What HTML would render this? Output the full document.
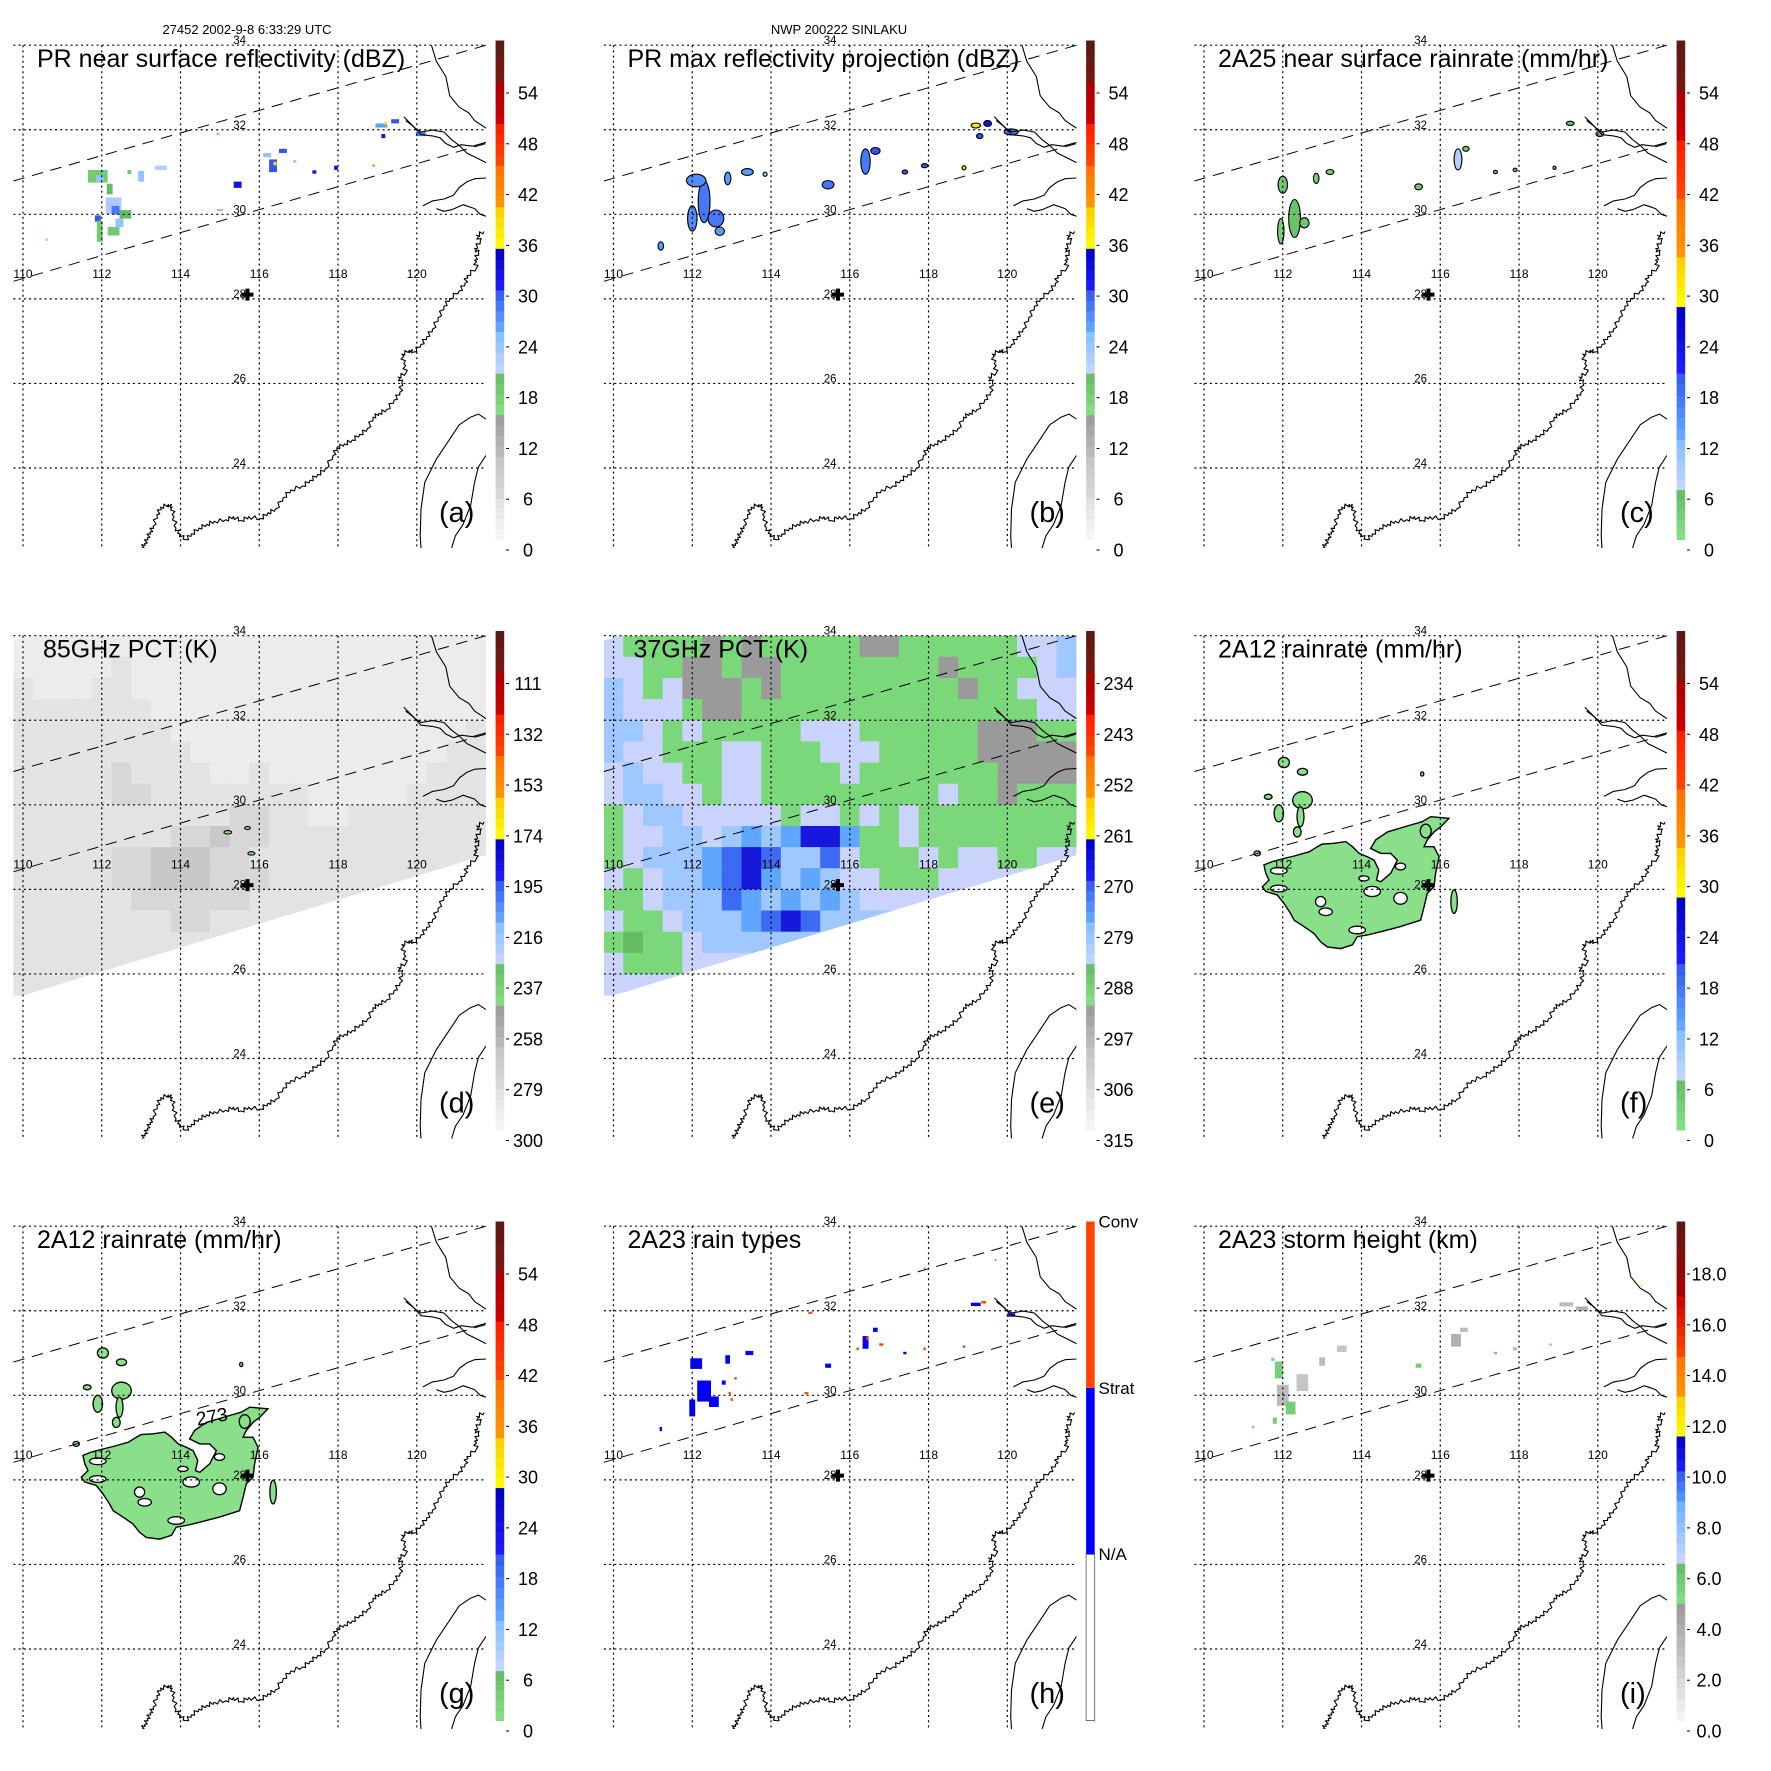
<!DOCTYPE html>
<html><head><meta charset="utf-8"><style>
html,body{margin:0;padding:0;background:#fff}
svg{display:block;font-family:"Liberation Sans",Arial,sans-serif}
</style></head><body>
<svg id="fig" xmlns="http://www.w3.org/2000/svg" width="1771" height="1771" viewBox="0 0 1771 1771">
<rect x="0" y="0" width="1771" height="1771" fill="#fff"/>
<defs><clipPath id="mapclip" clipPathUnits="userSpaceOnUse"><rect x="13.4" y="45.2" width="472.6" height="502.8"/></clipPath>
<clipPath id="swathclip" clipPathUnits="userSpaceOnUse"><polygon points="13.4,50 30,45.2 486,45.2 486,264.5 13.4,407.8"/></clipPath></defs>
<text x="247" y="34" font-size="13" text-anchor="middle">27452 2002-9-8 6:33:29 UTC</text>
<text x="839" y="34" font-size="13" text-anchor="middle">NWP 200222 SINLAKU</text>
</svg>
<script>
const NS='http://www.w3.org/2000/svg';
const svg=document.getElementById('fig');
// ---------- data ----------
const latTicks=[34,32,30,28,26,24];
const lonTicks=[110,112,114,116,118,120];
const centerLon=115.7, centerLat=28.1;
const pixA=[[111.9,30.9,0.5,0.3,18],[111.95,30.85,0.2,0.15,24],[112.2,30.6,0.15,0.25,20],[112.3,30.2,0.4,0.4,22],[112.35,30.1,0.2,0.2,28],[112.6,30.0,0.3,0.2,20],[111.9,29.9,0.15,0.15,30],[111.95,29.6,0.15,0.5,18],[112.3,29.6,0.3,0.2,18],[112.45,29.8,0.2,0.2,24],[113.0,30.9,0.15,0.25,24],[113.5,31.1,0.3,0.1,22],[112.7,31.0,0.1,0.1,18],[116.35,31.15,0.2,0.3,30],[116.4,31.2,0.08,0.08,38],[116.6,31.5,0.2,0.1,30],[116.2,31.4,0.2,0.1,24],[115.45,30.7,0.2,0.15,32],[119.1,32.1,0.3,0.1,26],[119.2,32.15,0.1,0.06,38],[119.45,32.2,0.2,0.1,30],[120.1,31.9,0.25,0.1,28],[119.15,31.85,0.1,0.1,32],[117.4,31.0,0.1,0.08,32],[117.95,31.1,0.1,0.1,32],[118.9,31.15,0.06,0.06,42],[110.6,29.4,0.06,0.06,22],[115.0,30.1,0.15,0.05,24],[114.95,31.9,0.08,0.06,24],[116.9,31.25,0.08,0.06,24]];
const blobB=[[112.3,30.3,0.15,0.5,28],[112.0,29.9,0.12,0.3,27],[112.6,29.9,0.2,0.2,28],[112.1,30.8,0.25,0.15,27],[112.9,30.85,0.08,0.15,26],[113.4,31.0,0.15,0.08,26],[113.85,30.95,0.05,0.05,24],[115.45,30.7,0.15,0.1,28],[116.4,31.25,0.12,0.3,28],[116.65,31.5,0.12,0.08,30],[117.4,31.0,0.07,0.05,30],[117.9,31.15,0.08,0.05,30],[119.2,32.1,0.12,0.06,38],[119.5,32.15,0.1,0.07,32],[120.1,31.95,0.18,0.07,28],[119.3,31.85,0.08,0.06,30],[111.2,29.25,0.07,0.1,26],[118.9,31.1,0.05,0.05,40],[112.7,29.6,0.12,0.1,26]];
const blobC=[[112.0,30.7,0.12,0.2,4],[112.3,29.9,0.15,0.45,5],[112.55,29.8,0.12,0.12,4],[111.95,29.6,0.08,0.3,3],[112.85,30.85,0.07,0.12,3],[113.2,31.0,0.1,0.06,3],[115.45,30.65,0.1,0.07,4],[116.45,31.3,0.1,0.25,8],[116.65,31.55,0.08,0.06,4],[119.3,32.15,0.1,0.05,5],[120.05,31.9,0.1,0.06,4],[117.4,31.0,0.05,0.04,5],[117.9,31.05,0.05,0.04,5],[118.9,31.1,0.04,0.04,4]];
const gridD=["000000000000000000000000","000001000000000000000000","100011000000000000000000","111111100000000000000000","111111110000000000000001","111111111000000000000011","111112111100100000000111","111112211111111000001111","111111111112211001111111","111111112232211111111111","111112233322111111111111","111112233322211111111111","111111222222111111111111","111111112211111111111111","111111111111111111111111","111111111111111111111111","111111111111111111111111"];
const shadeD={"0":"#ececec","1":"#e3e3e3","2":"#d7d7d7","3":"#c8c8c8"};
const gridE=["wggggrgrgggggrrggggggwwl","wwggrrgrrggggggggrggggwl","lwgwrrrgrgggggggggrggwww","lwwwgrrgggggggggggggggww","llwgwgggggwwwggggggrrrgg","lwwgggwwgggwwwgggggrrrrr","wlwwggwwggggwgggggggrrrr","wllwwgwwgggggggggwggrggg","gwllwwwwwgwwgwgwgggggggg","gwwllwlblbDDbggwgggggggg","gwlllbBDBllBwgggwgwwggww","wgwllbBDblblwwgggwwwwwww","ggwlllBblblblwwwwwwwwwww","wggwlllbBDBlllllllllllll","gGggwlllllllllllllllllll","wgggwwwwwwwwwwwwwwwwwwww","wwwwwwwwwwwwwwwwwwwwwwww"];
const colorE={g:"#7ad87a",G:"#64bb64",w:"#c9d3fb",l:"#9ec8ff",b:"#5ea6ff",B:"#3c6af2",D:"#1818dc",r:"#9a9a9a"};
const rainPoly=[[111.52,28.58],[111.74,28.66],[112.03,28.73],[112.29,28.79],[112.67,28.89],[112.88,29.01],[113.0,29.07],[113.3,29.09],[113.6,29.13],[113.77,29.01],[113.94,28.85],[114.15,28.77],[114.32,28.69],[114.44,28.46],[114.38,28.22],[114.49,28.18],[114.74,28.38],[114.91,28.69],[114.74,28.85],[114.49,28.85],[114.23,28.97],[114.36,29.17],[114.66,29.36],[115.16,29.5],[115.54,29.6],[115.76,29.72],[116.22,29.68],[116.01,29.48],[115.84,29.36],[115.67,29.17],[115.59,29.01],[115.84,29.01],[115.97,28.77],[115.88,28.38],[115.84,28.06],[115.67,27.91],[115.59,27.59],[115.5,27.27],[114.99,27.12],[114.49,27.0],[114.15,26.92],[113.89,26.88],[113.77,26.69],[113.47,26.6],[113.13,26.64],[112.96,26.76],[112.79,26.96],[112.54,27.12],[112.29,27.27],[112.2,27.43],[112.03,27.67],[111.86,27.87],[111.57,27.95],[111.48,28.06],[111.65,28.22],[111.57,28.38]];
const rainHoles=[[111.9,28.44,0.21,0.08],[111.9,28.02,0.21,0.08],[112.96,27.71,0.13,0.12],[113.09,27.47,0.17,0.09],[114.27,27.95,0.21,0.12],[114.99,27.79,0.17,0.14],[114.99,28.54,0.13,0.08],[113.89,27.04,0.21,0.09],[114.06,28.26,0.13,0.06]];
const rainRing=[[115.63,29.38,0.14,0.16]];
const rainIslands=[[112.03,31.0,0.14,0.12],[112.5,30.78,0.13,0.08],[111.63,30.19,0.1,0.06],[111.9,29.8,0.12,0.2],[112.5,30.11,0.25,0.2],[112.45,29.72,0.09,0.24],[112.37,29.36,0.1,0.12],[111.35,28.85,0.08,0.06],[116.35,27.71,0.08,0.28],[115.54,30.73,0.04,0.05]];
const pixH=[[112.1,30.75,0.3,0.25,1],[112.3,30.1,0.35,0.5,1],[112.0,29.7,0.15,0.4,1],[112.55,29.85,0.25,0.25,1],[112.8,30.3,0.1,0.1,1],[112.9,30.85,0.12,0.2,1],[113.45,31.0,0.2,0.1,1],[111.2,29.2,0.06,0.1,1],[113.1,30.4,0.06,0.06,2],[115.45,30.7,0.15,0.1,1],[116.4,31.25,0.15,0.3,1],[116.45,31.35,0.06,0.08,2],[116.65,31.55,0.12,0.1,1],[117.4,31.0,0.08,0.06,1],[117.9,31.1,0.06,0.06,2],[118.9,31.15,0.06,0.06,2],[119.2,32.15,0.25,0.08,1],[119.4,32.2,0.12,0.06,2],[120.1,31.9,0.2,0.08,1],[115.0,31.95,0.1,0.05,2],[114.9,30.05,0.1,0.05,2],[116.2,31.1,0.06,0.06,2],[112.95,30.05,0.06,0.06,2],[113.0,29.9,0.06,0.06,2],[117.9,33.0,0.04,0.04,2],[119.7,33.2,0.04,0.04,2],[116.8,31.2,0.1,0.06,2]];
const pixI=[[111.9,30.6,0.2,0.4,5.5],[112.0,30.0,0.3,0.5,3],[112.2,29.7,0.25,0.3,5.5],[111.8,29.4,0.1,0.15,5.5],[112.5,30.3,0.3,0.4,2.5],[113.0,30.8,0.15,0.2,3],[113.5,31.1,0.25,0.15,2.5],[115.45,30.7,0.15,0.1,5.5],[116.4,31.3,0.25,0.3,3.5],[116.6,31.55,0.2,0.1,3],[117.4,31.0,0.08,0.06,5.5],[117.9,31.1,0.1,0.08,3],[119.2,32.15,0.35,0.1,3],[119.6,32.05,0.3,0.1,3.5],[118.8,31.2,0.06,0.05,5.5],[121.1,32.6,0.04,0.04,12],[111.75,30.85,0.08,0.08,8],[111.25,29.25,0.06,0.06,5.5]];
const segStd=[[0,5,'#f8f8f8','#e0e0e0'],[5,10,'#dadada','#c3c3c3'],[10,15,'#bdbdbd','#999999'],[15,20,'#88e088','#66bb66'],[20,25,'#ccd6ff','#80bfff'],[25,30,'#66b0ff','#3355f0'],[30,35,'#1f1fff','#0000c0'],[35,40,'#ffff00','#ffcc00'],[40,45,'#ff9900','#ff7000'],[45,50,'#ff4a00','#ff1a00'],[50,55,'#d00000','#a80000'],[55,60,'#7a1810','#581a14']];
const segRain=[[0,6,'#88e088','#66bb66'],[6,12,'#ccd6ff','#80bfff'],[12,20,'#66b0ff','#3355f0'],[20,28,'#1f1fff','#0000c0'],[28,34,'#ffff00','#ffcc00'],[34,41,'#ff9900','#ff7000'],[41,48,'#ff4a00','#ff1a00'],[48,54,'#d00000','#a80000'],[54,60,'#7a1810','#581a14']];
const segHt=[[0,4.7,'#f8f8f8','#999999'],[4.7,6.3,'#88e088','#66bb66'],[6.3,8.8,'#ccd6ff','#66b0ff'],[8.8,10,'#5599ff','#3355f0'],[10,11.4,'#1f1fff','#0000c0'],[11.4,13,'#ffff00','#ffcc00'],[13,14.6,'#ff9900','#ff7000'],[14.6,17,'#ff4a00','#cc0000'],[17,20,'#aa0000','#5a1a14']];
const ticksStd=[0,6,12,18,24,30,36,42,48,54];
const labStd=['0','6','12','18','24','30','36','42','48','54'];
const labD=['300','279','258','237','216','195','174','153','132','111'];
const labE=['315','306','297','288','279','270','261','252','243','234'];
const ticksHt=[0,2,4,6,8,10,12,14,16,18];
const labHt=['0.0','2.0','4.0','6.0','8.0','10.0','12.0','14.0','16.0','18.0'];
const typeNames=['N/A','Strat','Conv'];
// ---------- helpers ----------
const X=lon=>23+(lon-110)*39.38;
const Y=lat=>45.2+(34-lat)*42.28;
function mk(tag,attrs,parent){const e=document.createElementNS(NS,tag);for(const k in attrs)e.setAttribute(k,attrs[k]);parent.appendChild(e);return e;}
function hex(c){return [1,3,5].map(i=>parseInt(c.substr(i,2),16));}
function mix(a,b,t){const A=hex(a),B=hex(b);return 'rgb('+A.map((v,i)=>Math.round(v+(B[i]-v)*t)).join(',')+')';}
function colorAt(v,segs){for(const s of segs){if(v<=s[1])return mix(s[2],s[3],Math.max(0,(v-s[0])/(s[1]-s[0])));}const s=segs[segs.length-1];return s[3];}
const S=2.613;
const coastMain=[[370,1432],[378,1420],[385,1405],[392,1390],[400,1375],[410,1345],[420,1325],[440,1318],[450,1325],[455,1350],[460,1380],[470,1395],[485,1410],[500,1395],[520,1380],[540,1370],[560,1362],[590,1358],[610,1350],[630,1360],[650,1350],[680,1355],[700,1340],[720,1330],[740,1300],[760,1280],[790,1270],[810,1255],[830,1240],[850,1225],[870,1190],[880,1170],[900,1160],[920,1150],[940,1135],[960,1120],[975,1090],[990,1080],[1010,1070],[1030,1045],[1045,1025],[1050,1000],[1040,985],[1060,975],[1055,950],[1050,925],[1070,915],[1080,920],[1100,900],[1115,880],[1130,860],[1145,830],[1160,800],[1175,780],[1200,760],[1215,740],[1220,720],[1245,700],[1240,680],[1250,660],[1240,650],[1255,630],[1245,615],[1265,605]];
const coastOther=[
[[1125,110],[1140,160],[1165,200],[1175,250],[1200,280],[1225,295],[1240,315],[1270,335]],
[[1055,305],[1070,320],[1085,335],[1100,345],[1130,340],[1160,345],[1180,365],[1200,380],[1220,400],[1240,410],[1270,425]],
[[1060,315],[1080,330],[1100,352],[1130,355],[1150,360],[1165,375],[1185,385],[1205,378],[1235,382],[1270,372]],
[[1105,538],[1130,525],[1160,520],[1185,510],[1200,490],[1220,475],[1240,467],[1270,465]],
[[1140,545],[1160,552],[1180,548],[1210,535],[1240,545],[1255,560],[1270,565]],
[[1100,1432],[1098,1400],[1100,1330],[1110,1260],[1140,1200],[1180,1140],[1200,1110],[1230,1090],[1250,1082],[1270,1095]],
[[1270,1190],[1250,1220],[1240,1260],[1230,1320],[1210,1370],[1190,1400],[1180,1432]]];
function jag(pts){const out=[];const w=[0,2.2,-1.8,1.5];for(let i=0;i<pts.length-1;i++){const [x0,y0]=pts[i],[x1,y1]=pts[i+1];const dx=x1-x0,dy=y1-y0,L=Math.hypot(dx,dy)||1;const nx=-dy/L,ny=dx/L;for(let k=0;k<4;k++){const t=k/4;out.push([(x0+dx*t)/S+nx*w[k],(y0+dy*t)/S+ny*w[k]]);}}const l=pts[pts.length-1];out.push([l[0]/S,l[1]/S]);return out;}
const pstr=a=>a.map(p=>p[0].toFixed(1)+','+p[1].toFixed(1)).join(' ');

const panels=[
{k:'a',c:0,r:0,title:'PR near surface reflectivity (dBZ)',tx:37,seg:segStd,max:60,ticks:ticksStd,labs:labStd},
{k:'b',c:1,r:0,title:'PR max reflectivity projection (dBZ)',tx:37,seg:segStd,max:60,ticks:ticksStd,labs:labStd},
{k:'c',c:2,r:0,title:'2A25 near surface rainrate (mm/hr)',tx:37,seg:segRain,max:60,ticks:ticksStd,labs:labStd},
{k:'d',c:0,r:1,title:'85GHz PCT (K)',tx:43,seg:segStd,max:60,ticks:ticksStd,labs:labD},
{k:'e',c:1,r:1,title:'37GHz PCT (K)',tx:43,seg:segStd,max:60,ticks:ticksStd,labs:labE},
{k:'f',c:2,r:1,title:'2A12 rainrate (mm/hr)',tx:37,seg:segRain,max:60,ticks:ticksStd,labs:labStd},
{k:'g',c:0,r:2,title:'2A12 rainrate (mm/hr)',tx:37,seg:segRain,max:60,ticks:ticksStd,labs:labStd},
{k:'h',c:1,r:2,title:'2A23 rain types',tx:37,seg:null,max:3,ticks:[],labs:[]},
{k:'i',c:2,r:2,title:'2A23 storm height (km)',tx:37,seg:segHt,max:20,ticks:ticksHt,labs:labHt}];

function drawRects(g,arr,colorFn,name){for(const p of arr){const el=mk('rect',{x:X(p[0]-p[2]/2).toFixed(1),y:Y(p[1]+p[3]/2).toFixed(1),width:Math.max(1.5,p[2]*39.38).toFixed(1),height:Math.max(1.5,p[3]*42.28).toFixed(1),fill:colorFn(p[4])},g);

}}
function drawBlobs(g,arr,colorFn,name){for(const p of arr){const el=mk('ellipse',{cx:X(p[0]).toFixed(1),cy:Y(p[1]).toFixed(1),rx:Math.max(1.5,p[2]*39.38).toFixed(1),ry:Math.max(1.5,p[3]*42.28).toFixed(1),fill:colorFn(p[4]),stroke:'#000','stroke-width':1.1},g);

}}
function drawGrid(g,grid,cmap,name){const gg=mk('g',{'clip-path':'url(#swathclip)'},g);


grid.forEach((row,r)=>{for(let c=0;c<row.length;c++){const lon0=109.75+0.5*c,lat0=34-0.5*r;const el=mk('rect',{x:X(lon0).toFixed(1),y:Y(lat0).toFixed(1),width:(0.5*39.38+0.6).toFixed(1),height:(0.5*42.28+0.6).toFixed(1),fill:cmap[row[c]]},gg);

}});}
function drawRainArea(g){const pts=rainPoly.map(p=>[X(p[0]),Y(p[1])]);const poly=mk('polygon',{points:pstr(pts),fill:'#8ae08a',stroke:'#000','stroke-width':1.4},g);


for(const h of rainHoles){const el=mk('ellipse',{cx:X(h[0]).toFixed(1),cy:Y(h[1]).toFixed(1),rx:(h[2]*39.38).toFixed(1),ry:(h[3]*42.28).toFixed(1),fill:'#fff',stroke:'#000','stroke-width':1.3},g);

}
for(const h of rainRing){const el=mk('ellipse',{cx:X(h[0]).toFixed(1),cy:Y(h[1]).toFixed(1),rx:(h[2]*39.38).toFixed(1),ry:(h[3]*42.28).toFixed(1),fill:'none',stroke:'#000','stroke-width':1.3},g);

}
for(const h of rainIslands){const el=mk('ellipse',{cx:X(h[0]).toFixed(1),cy:Y(h[1]).toFixed(1),rx:(h[2]*39.38).toFixed(1),ry:(h[3]*42.28).toFixed(1),fill:'#8ae08a',stroke:'#000','stroke-width':1.3},g);

}}

for(const P of panels){
const ox=P.c*590.5, oy=P.r*590.5;
const g=mk('g',{transform:`translate(${ox},${oy})`},svg);


const data=mk('g',{'clip-path':'url(#mapclip)'},g);


if(P.k==='a')drawRects(data,pixA,v=>colorAt(v,segStd),'reflectivity-pixel');
if(P.k==='b')drawBlobs(data,blobB,v=>colorAt(v,segStd),'max-reflectivity-cell');
if(P.k==='c')drawBlobs(data,blobC,v=>colorAt(v,segRain),'rainrate-cell');
if(P.k==='d'){drawGrid(data,gridD,shadeD,'pct85-field');drawBlobs(data,[[115.2,29.35,0.1,0.04,3],[115.7,29.45,0.07,0.03,3],[115.8,28.85,0.09,0.04,3]],v=>'#8ae08a','pct85-contour');}
if(P.k==='e')drawGrid(data,gridE,colorE,'pct37-field');
if(P.k==='f'||P.k==='g')drawRainArea(data);
if(P.k==='h')drawRects(data,pixH,t=>t===2?'#ff4400':'#0000ff','rain-type-pixel');
if(P.k==='i')drawRects(data,pixI,v=>colorAt(v,segHt),'storm-height-pixel');
for(const lon of lonTicks){const el=mk('line',{x1:X(lon),x2:X(lon),y1:45.2,y2:548,stroke:'#000','stroke-width':1.2,'stroke-dasharray':'2 3.2'},g);

}
for(const lat of latTicks){const el=mk('line',{x1:13.4,x2:486,y1:Y(lat),y2:Y(lat),stroke:'#000','stroke-width':1.2,'stroke-dasharray':'2 3.2'},g);

}
const sw1=mk('line',{x1:13.4,y1:181,x2:486,y2:45.2,stroke:'#000','stroke-width':1,'stroke-dasharray':'11.5 7.7'},g);


const sw2=mk('line',{x1:13.4,y1:281.3,x2:486,y2:143.5,stroke:'#000','stroke-width':1,'stroke-dasharray':'11.5 7.7'},g);


const cg=mk('g',{'clip-path':'url(#mapclip)',fill:'none',stroke:'#000','stroke-width':1.1,'stroke-linejoin':'round'},g);


const cm=mk('polyline',{points:pstr(jag(coastMain))},cg);


coastOther.forEach((pts,i)=>{const el=mk('polyline',{points:pstr(pts.map(p=>[p[0]/S,p[1]/S]))},cg);

});
for(const lat of latTicks){const t=mk('text',{x:239.6,y:(Y(lat)-1).toFixed(1),'font-size':11.5,'text-anchor':'middle'},g);t.textContent=lat;

}
for(const lon of lonTicks){const t=mk('text',{x:X(lon),y:278,'font-size':12,'text-anchor':'middle'},g);t.textContent=lon;

}
const cx=X(centerLon),cy=Y(centerLat);
const plus=mk('path',{d:`M${cx-6},${cy} H${cx+6} M${cx},${cy-6} V${cy+6}`,stroke:'#000','stroke-width':4},g);


const tt=mk('text',{x:P.tx,y:67,'font-size':25},g);tt.textContent=P.title;


const lt=mk('text',{x:439,y:522,'font-size':29},g);lt.textContent='('+P.k+')';


if(P.k==='g'){const t=mk('text',{x:212,y:242,'font-size':19,'text-anchor':'middle',transform:'rotate(-10 212 236)'},g);t.textContent='273';

}
const cb=mk('g',{},g);


const top=40.5,bot=539.6,H=bot-top,k=H/P.max,kl=8.463*60/P.max;
if(P.seg){for(const s of P.seg){const n=Math.max(2,Math.round((s[1]-s[0])/(P.max/48)));for(let j=0;j<n;j++){const v0=s[0]+(s[1]-s[0])*j/n,v1=s[0]+(s[1]-s[0])*(j+1)/n;const el=mk('rect',{x:495.6,width:8.6,y:(bot-v1*k).toFixed(2),height:((v1-v0)*k+0.4).toFixed(2),fill:mix(s[2],s[3],(j+0.5)/n)},cb);

}}
P.ticks.forEach((v,i)=>{const yy=550-v*kl;const tk=mk('line',{x1:506,x2:509,y1:yy,y2:yy,stroke:'#000','stroke-width':1},cb);


const t=mk('text',{x:528,y:(yy+6.5).toFixed(1),'font-size':18,'text-anchor':'middle'},cb);t.textContent=P.labs[i];

});}
else{const cols=['#ffffff','#0000ff','#ff4400'];for(let j=0;j<3;j++){const el=mk('rect',{x:495.6,width:8.6,y:(bot-(j+1)*H/3).toFixed(1),height:(H/3).toFixed(1),fill:cols[j],stroke:j===0?'#555':'none','stroke-width':0.8},cb);


const t=mk('text',{x:508,y:(bot-(j+1)*H/3+6).toFixed(1),'font-size':17},cb);t.textContent=typeNames[j];

}}
}
</script>
</body></html>
